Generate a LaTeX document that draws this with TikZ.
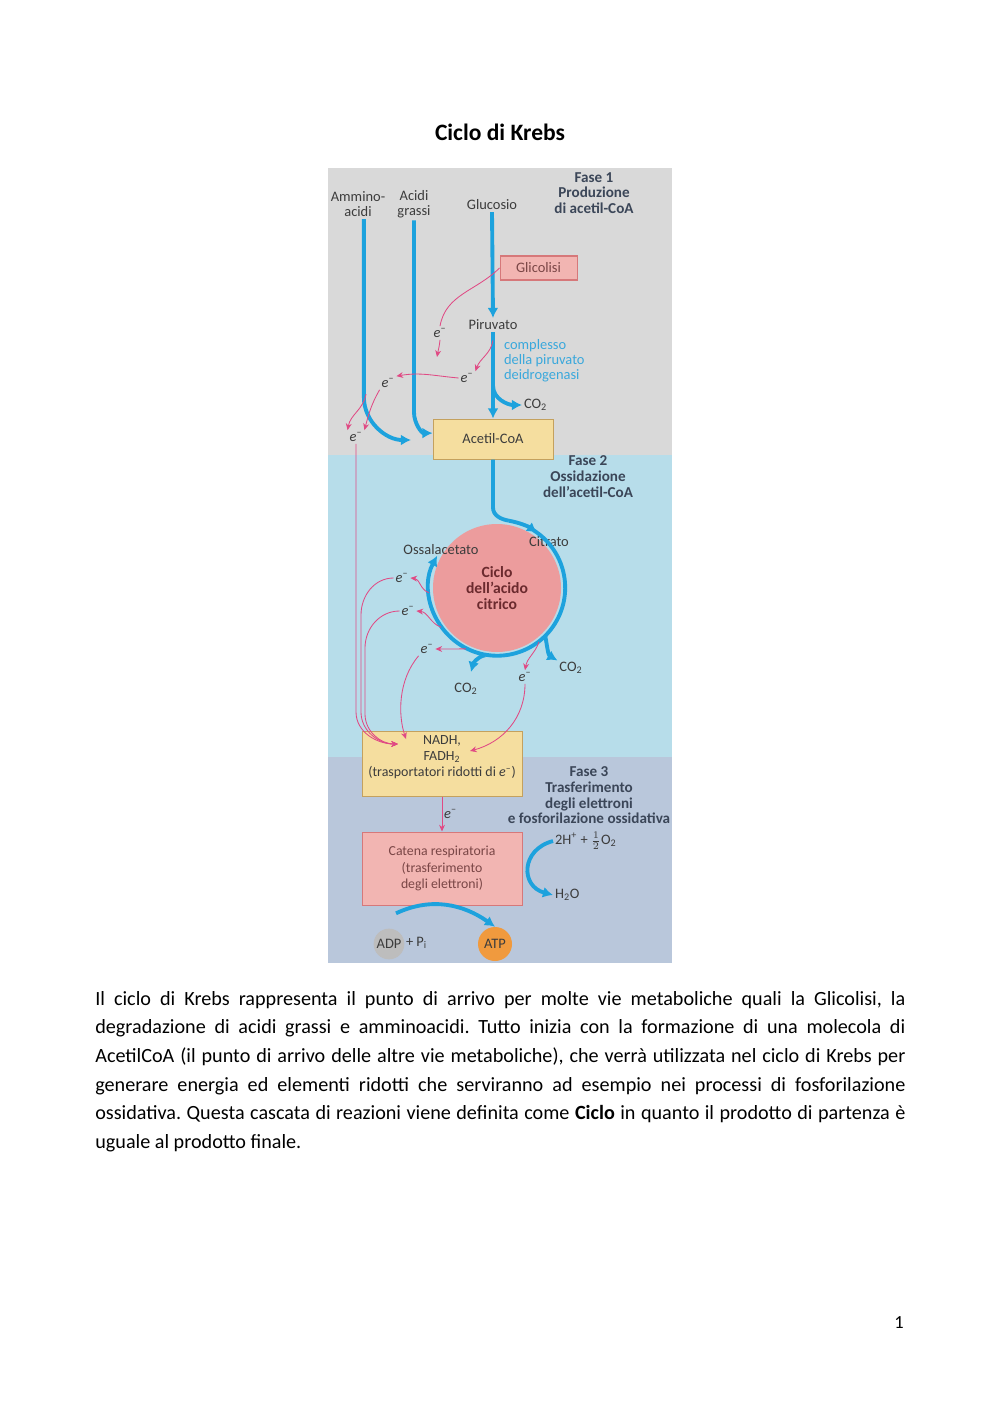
\documentclass[tikz,border=0pt]{standalone}
\usepackage{fontspec}
\setmainfont{Carlito}
\usepackage{tikz}
\usetikzlibrary{arrows.meta,calc,positioning}
\definecolor{PanelGrey}{HTML}{D9D9D9}
\definecolor{PanelCyan}{HTML}{B7DDEA}
\definecolor{PanelSlate}{HTML}{B9C7DB}
\definecolor{FluxBlue}{HTML}{1DA2DD}
\definecolor{ElecPink}{HTML}{E04A84}
\definecolor{BoxYellow}{HTML}{F5DE9F}
\definecolor{BoxYellowEdge}{HTML}{C4A15E}
\definecolor{BoxPink}{HTML}{F2B5B2}
\definecolor{BoxPinkEdge}{HTML}{D6787A}
\definecolor{CyclePink}{HTML}{EC9C9D}
\definecolor{FaseInk}{HTML}{3B4658}
\definecolor{CycleInk}{HTML}{6B2A2E}
\definecolor{LabelInk}{HTML}{3C3C3C}
\definecolor{BoxInk}{HTML}{7A4646}
\definecolor{EnzymeBlue}{HTML}{3AA8DC}
\definecolor{AtpOrange}{HTML}{F09A3E}
\definecolor{AdpGrey}{HTML}{BDBDBD}
\newcommand{\px}{0.595pt}
\newcommand{\eminus}{\textit{e}\textsuperscript{–}}

\begin{document}
\begin{tikzpicture}[x=\px, y=-\px, >=Stealth,
    lbl/.style={font=\fontsize{8.6}{9}\selectfont, text=LabelInk, inner sep=1pt, align=center},
    fase/.style={font=\fontsize{9}{9.3}\selectfont\bfseries, text=FaseInk, align=center, inner sep=0pt},
    flux/.style={draw=FluxBlue, line width=2.3pt, -{Latex[length=6pt,width=6.5pt]}},
    elec/.style={draw=ElecPink, line width=0.5pt, -{Stealth[length=4pt,width=3.5pt]}},
    ybox/.style={draw=BoxYellowEdge, fill=BoxYellow, line width=0.6pt, inner sep=0pt},
    pbox/.style={draw=BoxPinkEdge, fill=BoxPink, line width=0.6pt, inner sep=0pt,
        text=BoxInk, align=center}]
    \useasboundingbox (0,0) rectangle (1000,1415);
    \fill[white] (0,0) rectangle (1000,1415);

    % Title
    \node[font=\fontsize{14}{17}\selectfont\bfseries, anchor=base] (title) at (500,140) {Ciclo di Krebs};

    % Figure panels
    \fill[PanelGrey] (328,168) rectangle (672,455);
    \fill[PanelCyan] (328,455) rectangle (672,757);
    \fill[PanelSlate] (328,757) rectangle (672,963);

    % Phase headings
    \node[fase] (fase1) at (594,193) {Fase 1\\Produzione\\di acetil-CoA};
    \node[fase] (fase2) at (588,476.5) {Fase 2\\Ossidazione\\dell’acetil-CoA};
    \node[fase] (fase3) at (589,795.5) {Fase 3\\Trasferimento\\degli elettroni\\e fosforilazione ossidativa};

    % Phase 1
    \node[lbl] (amino) at (358,204.5) {Ammino-\\acidi};
    \node[lbl] (grassi) at (414,204.5) {Acidi\\grassi};
    \node[lbl] (gluc) at (492,205) {Glucosio};
    \node[pbox, font=\fontsize{8.6}{9}\selectfont, minimum width=77*\px, minimum height=24*\px] (glic) at (538.5,268) {Glicolisi};
    \node[lbl] (piruv) at (493,325) {Piruvato};
    \node[lbl, text=EnzymeBlue, align=left, anchor=west] (pdh) at (502,361) {complesso\\della piruvato\\deidrogenasi};
    \node[lbl, anchor=west] (co2a) at (522,405) {CO\textsubscript{2}};
    \node[ybox, lbl, minimum width=120*\px, minimum height=40*\px] (acetil) at (493,439) {Acetil-CoA};
    \coordinate (aminoend) at (411,440);

    % Phase 2
    \node[circle, fill=CyclePink, minimum size=128*\px, inner sep=0pt, align=center,
        font=\fontsize{9.3}{9.3}\selectfont\bfseries, text=CycleInk] (cycle) at (497,588) {Ciclo\\dell’acido\\citrico};
    \node[circle, minimum size=136*\px, inner sep=0pt] (orbit) at (497,588) {};
    \node[lbl] (ossal) at (441,550) {Ossalacetato};
    \node[lbl] (citr) at (549,542) {Citrato};
    \node[lbl] (co2r) at (571,668) {CO\textsubscript{2}};
    \node[lbl] (co2l) at (466,689) {CO\textsubscript{2}};
    \coordinate (co2ltip) at (471,672);

    % electrons
    \node[lbl] (e1) at (440,333) {\eminus};
    \node[lbl] (e2) at (467,378) {\eminus};
    \node[lbl] (e3) at (388,383) {\eminus};
    \node[lbl] (e4) at (356,437) {\eminus};
    \node[lbl] (e5) at (402,578) {\eminus};
    \node[lbl] (e6) at (408,611) {\eminus};
    \node[lbl] (e7) at (427,649) {\eminus};
    \node[lbl] (e8) at (525,677) {\eminus};
    \coordinate (e1tip) at (437,357);
    \coordinate (nadhin) at (398,744);
    \coordinate (nadhinb) at (406,739);
    \coordinate (nadhinc) at (470,751);

    % Phase 3
    \node[ybox, minimum width=160*\px, minimum height=65*\px] (nadh) at (442,763.5) {};
    \node[lbl, font=\fontsize{8.3}{9.5}\selectfont] (nadhtext) at (442,757) {NADH,\\FADH\textsubscript{2}\\(trasportatori ridotti di \eminus)};
    \node[pbox, font=\fontsize{8.2}{10}\selectfont, minimum width=160*\px, minimum height=73*\px] (catena) at (442,868.5) {Catena respiratoria\\(trasferimento\\degli elettroni)};
    \node[lbl, anchor=west] (o2) at (553,841) {2H\textsuperscript{+} + $\frac{1}{2}$O\textsubscript{2}};
    \node[lbl, anchor=west] (h2o) at (553,895) {H\textsubscript{2}O};
    \node[circle, fill=AdpGrey, minimum size=28*\px, inner sep=0pt, lbl] (adp) at (389,944) {ADP};
    \node[lbl, anchor=west] (pi) at (404,943) {+ P\textsubscript{i}};
    \node[circle, fill=AtpOrange, minimum size=34*\px, inner sep=0pt, lbl] (atp) at (495,944) {ATP};

    % Blue fluxes
    \draw[flux] ([xshift=3.5pt]amino.south) -- ++(0,178) to[out=-90,in=180] (aminoend);
    \draw[flux] (grassi.south) -- ++(0,192) to[out=-90,in=180] ([yshift=3.5pt]acetil.west);
    \draw[flux] (gluc.south) -- (piruv.north);
    \draw[flux] (piruv.south) -- (acetil.north);
    \draw[flux] ($(piruv.south)!0.62!(acetil.north)$) to[out=-90,in=180] (co2a.west);
    \draw[flux, -] (acetil.south) -- ++(0,48) to[out=-90,in=170] (orbit.80);
    \draw[flux] (orbit.80) arc[start angle=80, end angle=54, radius=68*\px];
    \draw[flux] (orbit.58) arc[start angle=58, end angle=-208, radius=68*\px];
    \draw[flux] (orbit.-45) to[out=-80,in=150] (co2r.north west);
    \draw[flux] (orbit.-100) to[out=190,in=75] (co2ltip);
    \draw[flux] (o2.west) to[out=195,in=165,looseness=1.6] (h2o.west);
    \draw[flux] ([shift={(7,-15)}]adp.north) to[out=25,in=145] (atp.north);

    % Electron paths
    \draw[elec, -] (glic.west) to[out=-135,in=80] (e1.north);
    \draw[elec] (e1.south) to[out=-95,in=80] (e1tip);
    \draw[elec] ([yshift=-5pt]piruv.south) to[out=-100,in=70] (e2.north east);
    \draw[elec] (e2.west) to[out=175,in=10] (e3.north east);
    \draw[elec] (e3.south west) to[out=-120,in=75] (e4.north east);
    \draw[elec] ($(amino.south)+(8,175)$) to[out=-100,in=80] (e4.north west);
    \draw[elec] (e4.south) -- ++(0,268) to[out=-90,in=180] (nadhin);
    \draw[elec] (orbit.184) to[out=160,in=-5] (e5.east);
    \draw[elec] (orbit.215) to[out=160,in=-5] (e6.east);
    \draw[elec] (orbit.243) -- (e7.east);
    \draw[elec] (orbit.-52) to[out=-110,in=80] (e8.north);
    \draw[elec] (e5.west) to[out=180,in=90] (361,615) -- (361,712) to[out=-90,in=180] (nadhin);
    \draw[elec] (e6.west) to[out=180,in=90] (365,648) -- (365,714) to[out=-90,in=180] (nadhin);
    \draw[elec] (e7.south west) .. controls (398,680) and (398,715) .. (nadhinb);
    \draw[elec] (e8.south) to[out=-90,in=15] (nadhinc);
    \draw[elec] (nadh.south) -- node[lbl, right] (e9) {\eminus} (catena.north);

    % Text
    \node[anchor=north west, text width=482pt, align=justify, inner sep=0pt,
        font=\fontsize{12}{17}\selectfont\frenchspacing] (para) at (95,991) {Il ciclo di Krebs rappresenta il punto di arrivo per molte vie metaboliche quali la Glicolisi, la\linebreak
    degradazione di acidi grassi e amminoacidi. Tutto inizia con la formazione di una molecola di\linebreak
    AcetilCoA (il punto di arrivo delle altre vie metaboliche), che verrà utilizzata nel ciclo di Krebs per\linebreak
    generare energia ed elementi ridotti che serviranno ad esempio nei processi di fosforilazione\linebreak
    ossidativa. Questa cascata di reazioni viene definita come \textbf{Ciclo} in quanto il prodotto di partenza è\linebreak
    uguale al prodotto finale.};
    \node[font=\fontsize{11}{13}\selectfont, anchor=base] (pagenum) at (899,1328) {1};

\end{tikzpicture}
\end{document}
